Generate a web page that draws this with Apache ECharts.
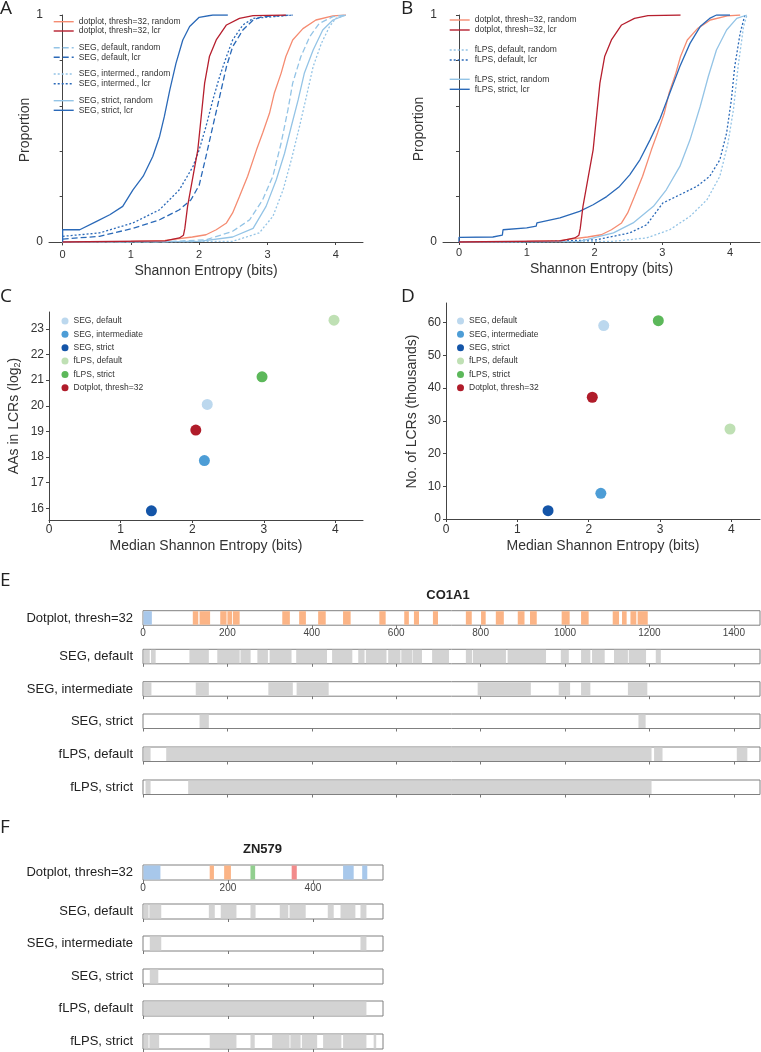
<!DOCTYPE html>
<html><head><meta charset="utf-8">
<script src="https://cdn.jsdelivr.net/npm/echarts@6/dist/echarts.min.js"></script>
<style>html,body{margin:0;padding:0;background:#fff}#c{width:761px;height:1052px}</style>
</head><body><div id="c"></div>
<script>
// ---------- DATA ----------
// Panel A/B: cumulative distributions [entropy, proportion]
const dotRandom = [[0,0],[1.0,0.003],[1.5,0.007],[1.9,0.022],[2.1,0.032],[2.25,0.054],[2.4,0.084],[2.49,0.128],[2.59,0.2],[2.71,0.29],[2.84,0.406],[2.93,0.48],[3.03,0.567],[3.1,0.655],[3.2,0.743],[3.27,0.817],[3.37,0.89],[3.52,0.94],[3.71,0.978],[3.96,0.996],[4.15,1]];
const dotLcr = [[0,0],[1.5,0.005],[1.71,0.018],[1.77,0.03],[1.79,0.06],[1.83,0.157],[1.91,0.29],[1.98,0.406],[2.03,0.553],[2.08,0.7],[2.15,0.817],[2.25,0.89],[2.4,0.956],[2.59,0.985],[2.79,0.997],[3.27,1]];
const segDefRandom = [[0,0],[1.5,0.001],[2.1,0.01],[2.49,0.047],[2.74,0.098],[2.93,0.186],[3.08,0.29],[3.2,0.435],[3.3,0.582],[3.37,0.7],[3.49,0.817],[3.62,0.905],[3.76,0.963],[3.96,0.993],[4.15,1]];
const segDefLcr = [[0,0.013],[0.54,0.025],[1.03,0.06],[1.42,0.098],[1.71,0.142],[1.88,0.186],[2.0,0.25],[2.1,0.377],[2.2,0.51],[2.3,0.64],[2.4,0.773],[2.49,0.86],[2.64,0.934],[2.79,0.978],[2.93,0.993],[3.37,1]];
const segIntRandom = [[0,0],[2.49,0.003],[2.88,0.04],[3.08,0.113],[3.23,0.23],[3.35,0.362],[3.47,0.509],[3.57,0.64],[3.67,0.773],[3.79,0.875],[3.91,0.949],[4.0,0.985],[4.15,1]];
const segIntLcr = [[0,0.025],[0.54,0.04],[1.03,0.084],[1.42,0.142],[1.71,0.23],[1.91,0.333],[2.0,0.406],[2.1,0.509],[2.2,0.626],[2.3,0.729],[2.4,0.817],[2.49,0.89],[2.64,0.956],[2.79,0.985],[3.37,1]];
const segStrRandom = [[0,0],[2.0,0.003],[2.49,0.022],[2.79,0.06],[2.98,0.157],[3.13,0.274],[3.25,0.39],[3.35,0.51],[3.45,0.626],[3.54,0.743],[3.67,0.846],[3.81,0.934],[3.96,0.978],[4.15,1]];
const segStrLcr = [[0,0],[0,0.054],[0.25,0.054],[0.49,0.09],[0.69,0.12],[0.88,0.157],[1.03,0.23],[1.18,0.29],[1.32,0.377],[1.42,0.465],[1.49,0.553],[1.57,0.67],[1.66,0.787],[1.76,0.89],[1.86,0.949],[2.0,0.99],[2.2,1],[2.42,1]];
const flpsDefRandom = [[0,0],[2.28,0.003],[2.77,0.018],[3.11,0.054],[3.41,0.113],[3.66,0.186],[3.85,0.289],[3.97,0.435],[4.05,0.582],[4.12,0.773],[4.2,0.949],[4.25,1]];
const flpsDefLcr = [[0,0],[1.29,0.002],[2.03,0.01],[2.52,0.04],[2.77,0.076],[3.01,0.172],[3.26,0.208],[3.51,0.245],[3.7,0.289],[3.85,0.362],[3.95,0.48],[4.02,0.626],[4.07,0.773],[4.15,0.92],[4.22,1]];
const flpsStrRandom = [[0,0],[1.78,0.003],[2.28,0.04],[2.57,0.084],[2.87,0.157],[3.06,0.23],[3.26,0.333],[3.41,0.45],[3.56,0.597],[3.68,0.729],[3.8,0.846],[3.95,0.934],[4.1,0.985],[4.25,1]];
const flpsStrLcr = [[0,0],[0,0.02],[0.5,0.022],[0.64,0.03],[0.65,0.054],[1.0,0.062],[1.14,0.07],[1.15,0.084],[1.49,0.106],[1.78,0.135],[1.98,0.164],[2.18,0.2],[2.37,0.245],[2.52,0.296],[2.67,0.362],[2.82,0.45],[2.97,0.545],[3.11,0.655],[3.26,0.773],[3.41,0.875],[3.56,0.949],[3.7,0.985],[3.8,1],[4.0,1]];

// Panel C/D
const methods = ['SEG, default','SEG, intermediate','SEG, strict','fLPS, default','fLPS, strict','Dotplot, thresh=32'];
const medianEntropy = [2.21, 2.17, 1.43, 3.98, 2.975, 2.05];
const aasLog2 = [20.05, 17.86, 15.9, 23.34, 21.13, 19.05];
const lcrThousands = [59.1, 7.85, 2.55, 27.5, 60.6, 37.2];

// Tick labels
const ticksAB_x = [0,1,2,3,4];
const ticksAB_y = [0,0.2,0.4,0.6,0.8,1];
const labelsAB_y = [0,1];
const ticksC_y = [16,17,18,19,20,21,22,23];
const ticksD_y = [0,10,20,30,40,50,60];
const ticksE = [0,200,400,600,800,1000,1200,1400];
const ticksF = [0,200,400];

// Panels E/F: segments [start, end, typeIndex]
const segTypes = ['LCR','orange','blue','green','red'];
const trackNames = ['Dotplot, thresh=32','SEG, default','SEG, intermediate','SEG, strict','fLPS, default','fLPS, strict'];
const co1a1Dot = [[0,21,2],[118,131,1],[134,159,1],[183,198,1],[200,211,1],[213,229,1],[330,348,1],[370,386,1],[415,433,1],[474,492,1],[560,575,1],[619,630,1],[642,654,1],[687,699,1],[765,779,1],[801,812,1],[836,855,1],[888,904,1],[917,933,1],[992,1011,1],[1038,1056,1],[1113,1128,1],[1135,1146,1],[1155,1169,1],[1172,1196,1]];
const co1a1SegDef = [[2,16,0],[19,30,0],[110,156,0],[176,229,0],[231,255,0],[271,296,0],[300,352,0],[363,436,0],[448,496,0],[510,525,0],[528,577,0],[581,610,0],[612,638,0],[639,661,0],[685,725,0],[765,780,0],[782,860,0],[864,955,0],[990,1009,0],[1038,1060,0],[1064,1094,0],[1116,1149,0],[1151,1192,0],[1215,1227,0]];
const co1a1SegInt = [[2,20,0],[125,156,0],[297,355,0],[364,440,0],[793,919,0],[985,1012,0],[1038,1060,0],[1149,1195,0]];
const co1a1SegStr = [[134,156,0],[1174,1191,0]];
const co1a1FlpsDef = [[2,18,0],[55,1205,0],[1211,1231,0],[1407,1432,0]];
const co1a1FlpsStr = [[6,18,0],[107,1205,0]];
const zn579Dot = [[0,41,2],[157,167,1],[191,207,1],[253,264,3],[350,362,4],[471,496,2],[516,528,2]];
const zn579SegDef = [[0,13,0],[15,43,0],[155,169,0],[183,220,0],[253,265,0],[322,342,0],[345,383,0],[435,449,0],[465,500,0],[512,526,0]];
const zn579SegInt = [[16,43,0],[512,526,0]];
const zn579SegStr = [[16,36,0]];
const zn579FlpsDef = [[2,526,0]];
const zn579FlpsStr = [[2,13,0],[15,38,0],[157,220,0],[253,263,0],[304,345,0],[347,371,0],[374,410,0],[424,467,0],[471,526,0],[543,549,0]];

// ---------- STYLE ----------
const FONT = 'Liberation Sans';
const TXT = '#333';
const AX = '#444';
const C_SALMON = '#f58c72', C_DARKRED = '#b61f2e', C_LB = '#94c4e6', C_B = '#2a69b8';
const segColors = ['#d3d3d3','#fbb486','#a8c8eb','#92cf8f','#f28b8b'];
const ptColors = ['#bcd8ee','#4d9dd6','#1455a8','#bfe0b4','#5cb85a','#b01c2a'];
const DASH = [6,3], DOT = [2,2];

const grids = [], xAxes = [], yAxes = [], series = [], legends = [], titles = [];

function axisCommon(){
  return {axisLine:{show:true,lineStyle:{color:AX,width:1}}, axisTick:{show:true,length:3,lineStyle:{color:AX}}, splitLine:{show:false},
    axisLabel:{color:TXT,fontSize:11,fontFamily:FONT}, nameTextStyle:{color:TXT,fontSize:14,fontFamily:FONT}};
}

// Panel A and B
function cdfPanel(g, curves, legendYs, legendLeft){
  const gi = grids.length;
  grids.push({left:g.left, top:g.top, width:g.width, height:g.height});
  const xa = axisCommon();
  Object.assign(xa, {type:'value', gridIndex:gi, min:g.xmin, max:g.xmax, name:'Shannon Entropy (bits)', nameLocation:'middle', nameGap:19});
  xa.axisTick.customValues = ticksAB_x; xa.axisLabel.customValues = ticksAB_x; xa.axisLabel.margin = 4;
  xAxes.push(xa);
  const ya = axisCommon();
  Object.assign(ya, {type:'value', gridIndex:gi, min:g.ymin, max:1, name:'Proportion', nameLocation:'middle', nameGap:g.nameGap});
  ya.axisTick.customValues = ticksAB_y; ya.axisLabel.customValues = labelsAB_y; ya.axisLabel.margin = 6; ya.axisLabel.fontSize = 12;
  yAxes.push(ya);
  curves.forEach((c, i) => {
    series.push({type:'line', name:c.name, xAxisIndex:gi, yAxisIndex:gi, data:c.data, symbol:'none', showSymbol:false,
      lineStyle:{color:c.color, width:1.3, type:c.dash||'solid'}, itemStyle:{color:c.color}, z:c.z||2, silent:true});
    legends.push({data:[{name:c.name}], left:legendLeft, top:legendYs[i]-5, orient:'vertical', padding:0,
      itemWidth:20, itemHeight:10, selectedMode:false, itemStyle:{opacity:0}, lineStyle:{width:1.4},
      textStyle:{fontSize:8.5, color:TXT, fontFamily:FONT, lineHeight:10}});
  });
}
cdfPanel({left:49, top:15, width:314, height:230, xmin:-0.2, xmax:4.4, ymin:-0.0132, nameGap:17}, [
  {name:'dotplot, thresh=32, random', data:dotRandom, color:C_SALMON},
  {name:'dotplot, thresh=32, lcr', data:dotLcr, color:C_DARKRED, z:4},
  {name:'SEG, default, random', data:segDefRandom, color:C_LB, dash:DASH},
  {name:'SEG, default, lcr', data:segDefLcr, color:C_B, dash:DASH},
  {name:'SEG, intermed., random', data:segIntRandom, color:C_LB, dash:DOT},
  {name:'SEG, intermed., lcr', data:segIntLcr, color:C_B, dash:DOT},
  {name:'SEG, strict, random', data:segStrRandom, color:C_LB},
  {name:'SEG, strict, lcr', data:segStrLcr, color:C_B}
], [21.7,31,47.7,57.3,74,83.7,100.7,110.3], 53);
cdfPanel({left:443, top:15, width:317, height:228, xmin:-0.236, xmax:4.443, ymin:-0.0044, nameGap:16}, [
  {name:'dotplot, thresh=32, random', data:dotRandom, color:C_SALMON},
  {name:'dotplot, thresh=32, lcr', data:dotLcr, color:C_DARKRED, z:4},
  {name:'fLPS, default, random', data:flpsDefRandom, color:C_LB, dash:DOT},
  {name:'fLPS, default, lcr', data:flpsDefLcr, color:C_B, dash:DOT},
  {name:'fLPS, strict, random', data:flpsStrRandom, color:C_LB},
  {name:'fLPS, strict, lcr', data:flpsStrLcr, color:C_B}
], [20,30,50,60,79.3,89.3], 449);

// Panel C and D
function scatterPanel(g, yVals, yName, yTicks, legendLeft){
  const gi = grids.length;
  grids.push({left:g.left, top:g.top, width:g.width, height:g.height});
  const xa = axisCommon();
  Object.assign(xa, {type:'value', gridIndex:gi, min:0, max:g.xmax, name:'Median Shannon Entropy (bits)', nameLocation:'middle', nameGap:19});
  xa.axisTick.customValues = ticksAB_x; xa.axisLabel.customValues = ticksAB_x; xa.axisLabel.margin = 4; xa.axisLabel.fontSize = 12;
  xAxes.push(xa);
  const ya = axisCommon();
  Object.assign(ya, {type:'value', gridIndex:gi, min:g.ymin, max:g.ymax, name:yName, nameLocation:'middle', nameGap:g.nameGap});
  ya.axisTick.customValues = yTicks; ya.axisLabel.customValues = yTicks; ya.axisLabel.margin = 5; ya.axisLabel.fontSize = 12;
  ya.nameTextStyle.rich = {sub:{fontSize:9, fontFamily:FONT, color:TXT, verticalAlign:'bottom', padding:[7,0,0,0]}};
  yAxes.push(ya);
  methods.forEach((m,i) => {
    series.push({type:'scatter', name:m, xAxisIndex:gi, yAxisIndex:gi, data:[[medianEntropy[i], yVals[i]]], symbol:'circle', symbolSize:11,
      itemStyle:{color:ptColors[i], opacity:1}, silent:true});
    legends.push({data:[{name:m, icon:'circle'}], left:legendLeft, top:321+13.35*i-5, orient:'vertical', padding:0,
      itemWidth:7, itemHeight:7, selectedMode:false, textStyle:{fontSize:8.5, color:TXT, fontFamily:FONT, lineHeight:10}});
  });
}
scatterPanel({left:49, top:312, width:314, height:208, xmax:4.385, ymin:15.54, ymax:23.66, nameGap:27}, aasLog2, 'AAs in LCRs (log{sub|2})', ticksC_y, 61.5);
scatterPanel({left:446, top:303, width:314, height:217, xmax:4.40, ymin:-0.3, ymax:66, nameGap:27}, lcrThousands, 'No. of LCRs (thousands)', ticksD_y, 457);

// Panels E/F: tracks
function renderSeg(params, api){
  const s = api.value(0), e = api.value(1), t = api.value(2);
  const p0 = api.coord([s, 0]), p1 = api.coord([e, 0]);
  const h = api.size([0, 1])[1];
  const cs = params.coordSys;
  const rect = echarts.graphic.clipRectByRect({x:p0[0], y:p0[1]-h/2, width:p1[0]-p0[0], height:h},
    {x:cs.x+0.5, y:cs.y+0.5, width:cs.width-1, height:cs.height-1});
  return rect && {type:'rect', shape:rect, style:{fill:segColors[t]}};
}
function trackSet(left, width, axisMax, ticks, tops, h, datasets){
  datasets.forEach((d, k) => {
    const gi = grids.length;
    grids.push({left:left, top:tops[k], width:width, height:h, show:true, borderColor:'#808080', borderWidth:1, backgroundColor:'#fff'});
    xAxes.push({type:'value', gridIndex:gi, min:0, max:axisMax, axisLine:{show:false}, splitLine:{show:false},
      axisTick:{show:true, length:3, customValues:ticks, lineStyle:{color:'#777'}},
      axisLabel:{show:k===0, customValues:ticks, fontSize:10, color:'#444', fontFamily:FONT, margin:3, formatter:v => String(v)}});
    yAxes.push({type:'category', gridIndex:gi, data:[trackNames[k]], axisLine:{show:false}, axisTick:{show:false},
      axisLabel:{fontSize:13, color:'#222', fontFamily:FONT, margin:10}});
    series.push({type:'custom', xAxisIndex:gi, yAxisIndex:gi, renderItem:renderSeg, encode:{x:[0,1]}, data:d, silent:true, z:3});
  });
}
trackSet(143, 617, 1462, ticksE, [610.7,649.3,681.7,714,747,780], 14.5,
  [co1a1Dot, co1a1SegDef, co1a1SegInt, co1a1SegStr, co1a1FlpsDef, co1a1FlpsStr]);
trackSet(143, 240, 565, ticksF, [865,904,936,969,1001,1034], 15,
  [zn579Dot, zn579SegDef, zn579SegInt, zn579SegStr, zn579FlpsDef, zn579FlpsStr]);

// Titles
const letterStyle = {fontSize:19, fontWeight:'normal', color:'#222', fontFamily:'Open Sans'};
[['A',0,-1],['B',401,-1],['C',0,287],['D',401,287],['E',0,571],['F',0,818]].forEach(t =>
  titles.push({text:t[0], left:t[1], top:t[2], padding:0, textStyle:letterStyle}));
titles.push({text:'CO1A1', left:448, top:589, textAlign:'center', padding:0, textStyle:{fontSize:13, fontWeight:'bold', color:'#222', fontFamily:FONT}});
titles.push({text:'ZN579', left:262.5, top:843, textAlign:'center', padding:0, textStyle:{fontSize:13, fontWeight:'bold', color:'#222', fontFamily:FONT}});

const chart = echarts.init(document.getElementById('c'), null, {renderer:'canvas'});
chart.setOption({animation:false, textStyle:{fontFamily:FONT}, title:titles, grid:grids, xAxis:xAxes, yAxis:yAxes, series:series, legend:legends, tooltip:{show:false}});
</script></body></html>
